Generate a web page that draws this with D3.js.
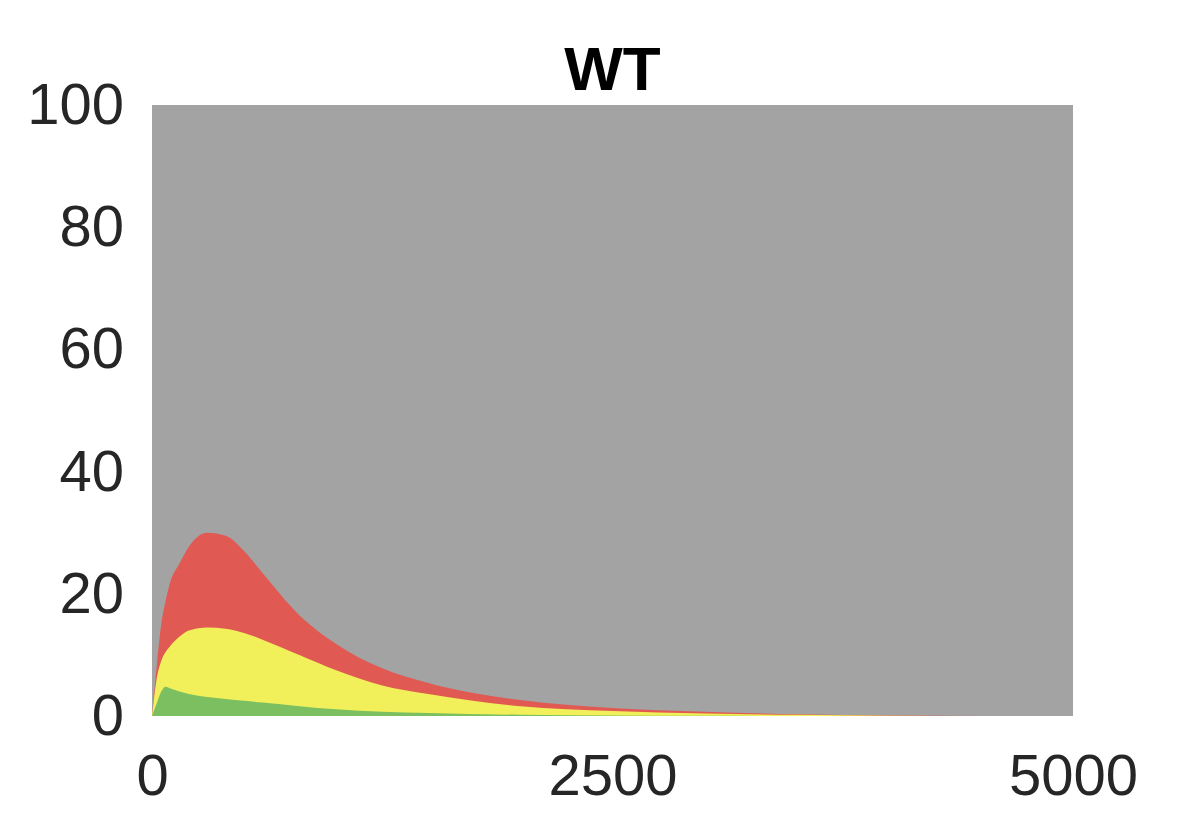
<!DOCTYPE html>
<html>
<head>
<meta charset="utf-8">
<script src="https://cdn.jsdelivr.net/npm/d3@7"></script>
<style>
  body { margin: 0; background: #fff; }
  text { font-family: "Liberation Sans", Arial, sans-serif; }
</style>
</head>
<body>
<svg id="chart" width="1181" height="827"></svg>
<script>
// sample positions along x
var xs = [0, 25, 50, 75, 100, 150, 200, 300, 400, 500, 600, 800, 1000, 1250, 1500, 2000, 2500, 3000, 3500, 4000, 4500, 5000];
// cumulative tops of each stacked layer (%)
var greenTop  = [0, 2, 4, 4.8, 4.5, 4, 3.6, 3.1, 2.8, 2.5, 2.2, 1.6, 1.1, 0.7, 0.5, 0.2, 0.1, 0.05, 0, 0, 0, 0];
var yellowTop = [0, 6, 9, 10.5, 11.5, 13, 14, 14.5, 14.3, 13.6, 12.5, 10, 7.5, 5, 3.6, 1.6, 0.8, 0.4, 0.2, 0.05, 0, 0];
var redTop    = [0, 8, 15, 19, 22, 25, 27.7, 30, 29.5, 27, 23.4, 16.5, 11.8, 7.8, 5.4, 2.6, 1.3, 0.7, 0.3, 0.1, 0.02, 0];

var xTicks = [0, 2500, 5000];
var yTicks = [0, 20, 40, 60, 80, 100];

var svg = d3.select("#chart");
var margin = {left: 152, right: 108, top: 105, bottom: 111};
var w = 1181 - margin.left - margin.right;
var h = 827 - margin.top - margin.bottom;

var x = d3.scaleLinear().domain([0, 5000]).range([margin.left, margin.left + w]);
var y = d3.scaleLinear().domain([0, 100]).range([margin.top + h, margin.top]);

// grey background layer up to 100
svg.append("rect")
  .attr("x", x(0)).attr("y", y(100))
  .attr("width", x(5000) - x(0)).attr("height", y(0) - y(100))
  .attr("fill", "#a3a3a3");

var layers = [
  {top: redTop, color: "#e05a53"},
  {top: yellowTop, color: "#f1f05a"},
  {top: greenTop, color: "#7bbf60"}
];

layers.forEach(function(layer) {
  var area = d3.area()
    .x(function(d, i) { return x(xs[i]); })
    .y0(y(0))
    .y1(function(d) { return y(d); })
    .curve(d3.curveMonotoneX);
  svg.append("path")
    .datum(layer.top)
    .attr("d", area)
    .attr("fill", layer.color);
});

// axes (labels only, no lines or ticks)
var yAxis = svg.append("g")
  .attr("transform", "translate(" + (margin.left - 28) + ",0)")
  .call(d3.axisLeft(y).tickValues(yTicks).tickSize(0).tickPadding(0));
yAxis.select(".domain").remove();
yAxis.selectAll("text").attr("font-size", 58).attr("fill", "#262626")
  .attr("font-family", "Liberation Sans, Arial, sans-serif");

var xAxis = svg.append("g")
  .attr("transform", "translate(0," + (margin.top + h + 38) + ")")
  .call(d3.axisBottom(x).tickValues(xTicks).tickFormat(d3.format("d")).tickSize(0).tickPadding(0));
xAxis.select(".domain").remove();
xAxis.selectAll("text").attr("font-size", 58).attr("fill", "#262626")
  .attr("font-family", "Liberation Sans, Arial, sans-serif");

svg.append("text")
  .attr("x", margin.left + w / 2).attr("y", 90)
  .attr("text-anchor", "middle")
  .attr("font-size", 62).attr("font-weight", "bold")
  .text("WT");
</script>
</body>
</html>
